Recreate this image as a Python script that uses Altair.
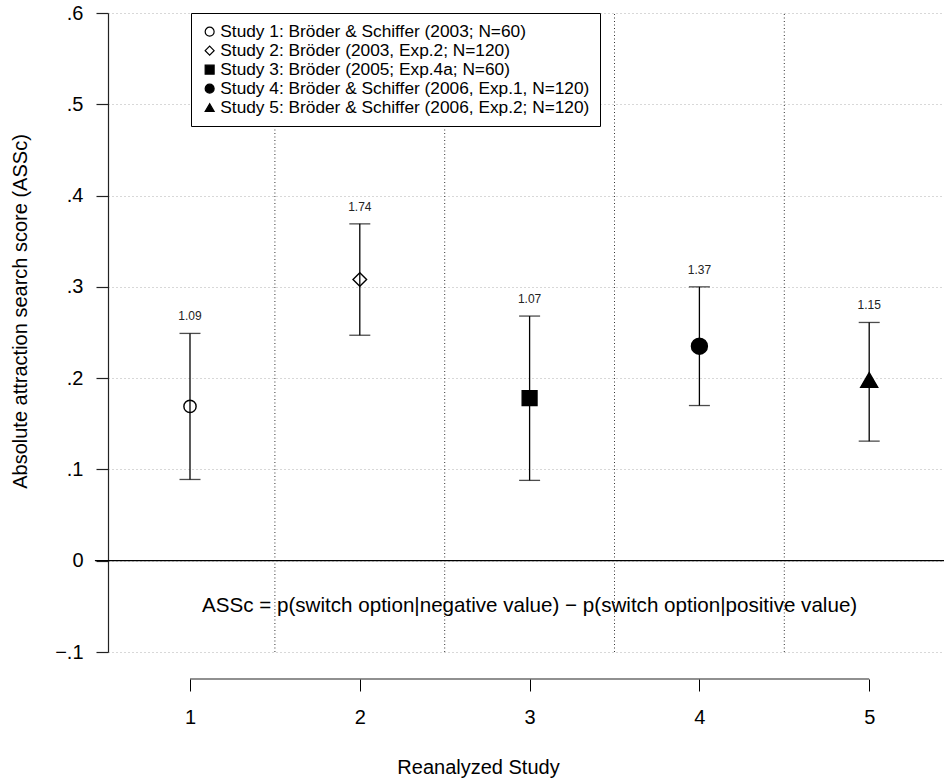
import altair as alt
import pandas as pd

# ---- data ----
studies = [1, 2, 3, 4, 5]
names = [
    "Study 1: Bröder & Schiffer (2003; N=60)",
    "Study 2: Bröder (2003, Exp.2; N=120)",
    "Study 3: Bröder (2005; Exp.4a; N=60)",
    "Study 4: Bröder & Schiffer (2006, Exp.1, N=120)",
    "Study 5: Bröder & Schiffer (2006, Exp.2; N=120)",
]
means = [0.169, 0.308, 0.178, 0.235, 0.198]
lower = [0.089, 0.247, 0.088, 0.170, 0.131]
upper = [0.249, 0.369, 0.268, 0.300, 0.261]
effects = ["1.09", "1.74", "1.07", "1.37", "1.15"]
y_ticks = [-0.1, 0.0, 0.1, 0.2, 0.3, 0.4, 0.5, 0.6]
x_ticks = [1, 2, 3, 4, 5]
separators = [1.5, 2.5, 3.5, 4.5]
equation = "ASSc = p(switch option|negative value) \u2212 p(switch option|positive value)"

# ---- styles ----
shapes = ["circle", "diamond", "square", "circle", "triangle-up"]
fills = ["transparent", "transparent", "black", "black", "black"]
strokes = ["black", "black", "black", "black", "black"]
sizes = [150, 290, 144, 128, 190]

FONT = "Liberation Sans"
W, H = 836, 639
X_DOMAIN = [0.5171, 5.4405]
Y_DOMAIN = [-0.1, 0.6]
XAXIS_OFFSET = 27

df = pd.DataFrame({
    "study": studies, "name": names, "mean": means,
    "lower": lower, "upper": upper, "effect": effects,
})
sep_df = pd.DataFrame({"sep": separators})
eq_df = pd.DataFrame({"t": [equation]})

xs = alt.Scale(domain=X_DOMAIN, nice=False, zero=False)
ys = alt.Scale(domain=Y_DOMAIN, nice=False, zero=False)

x_axis = alt.Axis(
    title="Reanalyzed Study", values=x_ticks, format="d", grid=False,
    domain=False, ticks=True, tickSize=12, tickColor="black", tickWidth=1,
    labelFontSize=20, labelPadding=16, labelColor="black", offset=XAXIS_OFFSET,
    titleFontSize=20, titleFontWeight="normal", titleColor="black",
    titleX=370, titleY=88, titleAlign="center", titleBaseline="middle",
)
y_axis = alt.Axis(
    title="Absolute attraction search score (ASSc)", values=y_ticks,
    labelExpr="datum.value == 0 ? '0' : replace(replace(format(datum.value, '.1f'), '0.', '.'), '-', '\u2212')",
    grid=True, gridDash=[1, 3], gridColor="#b0b0b0", gridWidth=1,
    domain=True, domainColor="#222222", domainWidth=1.2,
    ticks=True, tickSize=12, tickColor="#222222", tickWidth=1.2,
    labelFontSize=20, labelPadding=13, labelColor="black",
    titleFontSize=20, titleFontWeight="normal", titleColor="black",
    titleX=-88, titleY=298, titleAlign="center", titleBaseline="middle", titleAngle=-90,
)

legend = alt.Legend(
    title=None,
    symbolStrokeWidth=1.2,
    symbolSize=80,
)


def X(field=None, datum=None):
    if datum is not None:
        return alt.X(datum=datum, type="quantitative", scale=xs, axis=x_axis)
    return alt.X(field, type="quantitative", scale=xs, axis=x_axis)


def Y(field=None, datum=None):
    if datum is not None:
        return alt.Y(datum=datum, type="quantitative", scale=ys, axis=y_axis)
    return alt.Y(field, type="quantitative", scale=ys, axis=y_axis)


base = alt.Chart(df)

seps = alt.Chart(sep_df).mark_rule(color="#333333", strokeDash=[1, 2.5], strokeWidth=1).encode(
    x=X("sep"), y=Y(datum=Y_DOMAIN[0]), y2=alt.Y2(datum=Y_DOMAIN[1])
)

zero_line = alt.Chart(eq_df).mark_rule(color="black", strokeWidth=1.2).encode(
    x=X(datum=0.44), x2=alt.X2(datum=X_DOMAIN[1]), y=Y(datum=0)
)

x_domain_line = alt.Chart(eq_df).mark_rule(color="#222222", strokeWidth=1.2).encode(
    x=X(datum=x_ticks[0]), x2=alt.X2(datum=x_ticks[-1]), y=alt.value(H + XAXIS_OFFSET)
)

bars = base.mark_rule(color="black", strokeWidth=1.3).encode(
    x=X("study"), y=Y("lower"), y2="upper"
)
caps_hi = base.mark_tick(color="black", thickness=1.3, size=21, orient="horizontal").encode(
    x=X("study"), y=Y("upper")
)
caps_lo = base.mark_tick(color="black", thickness=1.3, size=21, orient="horizontal").encode(
    x=X("study"), y=Y("lower")
)

points = base.mark_point(filled=True, strokeWidth=1.4, opacity=1).encode(
    x=X("study"), y=Y("mean"),
    shape=alt.Shape("name:N", scale=alt.Scale(domain=names, range=shapes), legend=legend),
    fill=alt.Fill("name:N", scale=alt.Scale(domain=names, range=fills), legend=legend),
    stroke=alt.Stroke("name:N", scale=alt.Scale(domain=names, range=strokes), legend=legend),
    size=alt.Size("study:O", scale=alt.Scale(domain=studies, range=sizes), legend=None),
)

labels = base.mark_text(fontSize=12, color="#222222", dy=-17, font=FONT).encode(
    x=X("study"), y=Y("upper"), text="effect:N"
)

eq_text = alt.Chart(eq_df).mark_text(fontSize=20.6, color="black", font=FONT).encode(
    x=X(datum=3), y=Y(datum=-0.05), text="t:N"
)

chart = alt.layer(
    seps, zero_line, x_domain_line, bars, caps_hi, caps_lo, points, labels, eq_text
).properties(
    width=W, height=H,
    padding={"left": 108, "top": 13, "right": 0, "bottom": 132},
    autosize=alt.AutoSizeParams(type="none"),
).configure(
    font=FONT, background="white"
).configure_view(
    stroke=None
).configure_legend(
    orient="none", legendX=83, legendY=0,
    strokeColor="black", fillColor="white", padding=10, cornerRadius=0,
    labelFontSize=17.3, labelColor="black", labelFont=FONT,
    labelLimit=700,
    symbolSize=80, symbolStrokeWidth=1.2,
    rowPadding=1, labelOffset=2,
)

chart.save("out.html", embed_options={"renderer": "svg", "actions": False})
